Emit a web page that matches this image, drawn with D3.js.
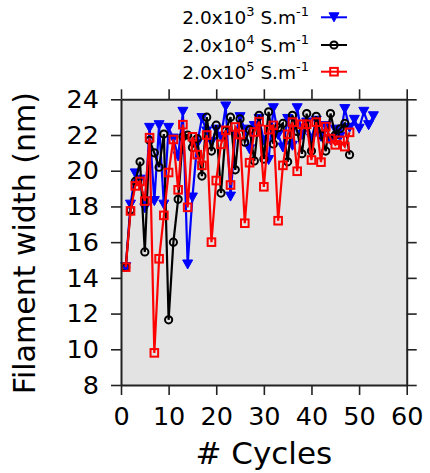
<!DOCTYPE html>
<html>
<head>
<meta charset="utf-8">
<script src="https://cdn.jsdelivr.net/npm/d3@7"></script>
<style>
  body { margin: 0; background: #fff; }
  svg text { font-family: "DejaVu Sans", sans-serif; }
</style>
</head>
<body>
<div id="chart"></div>
<script>
// filament width vs cycle, three conductivities
var xTicks = [0, 10, 20, 30, 40, 50, 60];
var yTicks = [8, 10, 12, 14, 16, 18, 20, 22, 24];

var seriesNames = ["2.0x10|3| S.m|-1", "2.0x10|4| S.m|-1", "2.0x10|5| S.m|-1"];

var blueVals = [14.6, 18.1, 19.85, 19.5, 17.9, 22.4, 18.3, 22.55, 18.1, 22.4,
  21.8, 20.8, 23.3, 14.75, 18.5, 21.5, 22.95, 22.2, 21.6, 22.3,
  21.9, 23.6, 18.55, 22.0, 23.0, 22.3, 21.2, 22.5, 22.9, 21.7,
  20.6, 23.5, 22.0, 21.3, 22.9, 21.4, 23.5, 22.0, 22.7, 21.8,
  22.8, 21.9, 22.5, 21.7, 22.3, 21.9, 23.45, 22.4, 22.85, 22.35,
  23.3, 22.55, 23.05];

var blackVals = [14.6, 17.8, 19.4, 20.5, 15.45, 21.7, 21.0, 20.2, 22.05, 11.65,
  16.0, 18.4, 21.9, 22.0, 21.3, 21.8, 19.7, 23.0, 21.1, 22.55,
  18.75, 22.25, 23.0, 20.05, 22.9, 21.6, 22.3, 20.55, 23.1, 20.65,
  23.3, 21.5, 22.4, 22.65, 20.5, 23.1, 22.2, 20.95, 23.2, 21.1,
  23.05, 22.0, 21.1, 23.2, 22.0, 22.35, 22.65, 20.9];

var redVals = [14.6, 17.75, 19.15, 19.4, 18.3, 21.85, 9.8, 15.07, 17.5, 19.9,
  21.75, 18.93, 22.58, 17.95, 21.9, 20.9, 20.3, 22.0, 16.0, 19.45,
  21.48, 22.26, 19.2, 22.45, 22.03, 17.06, 20.45, 22.17, 22.75, 19.1,
  22.3, 22.54, 17.2, 20.3, 22.04, 22.72, 19.97, 22.6, 22.6, 20.6,
  22.72, 20.48, 22.47, 21.8, 21.45, 21.7, 21.35, 22.15];

var W = 430, H = 473;
var ml = 121, mt = 99.3, pw = 285.7, ph = 285.7;

var svg = d3.select("#chart").append("svg")
  .attr("width", W).attr("height", H);

var x = d3.scaleLinear().domain([0, 60]).range([ml, ml + pw]);
var y = d3.scaleLinear().domain([8, 24]).range([mt + ph, mt]);

svg.append("rect")
  .attr("x", ml).attr("y", mt)
  .attr("width", pw).attr("height", ph)
  .attr("fill", "#e3e3e3");

var series = [
  { vals: blueVals, color: "#0000ff", marker: "tri" },
  { vals: blackVals, color: "#000000", marker: "circ" },
  { vals: redVals, color: "#ff0000", marker: "sq" }
];

var line = d3.line()
  .x(function(d, i) { return x(i + 1); })
  .y(function(d) { return y(d); });

function drawMarker(g, kind, color) {
  if (kind == "tri") {
    g.append("path").attr("d", "M-5,-4.5 L5,-4.5 L0,4.5 Z")
      .attr("fill", color).attr("stroke", color).attr("stroke-width", 1);
  } else if (kind == "circ") {
    g.append("circle").attr("r", 3.6)
      .attr("fill", "none").attr("stroke", color).attr("stroke-width", 2);
  } else {
    g.append("rect").attr("x", -3.8).attr("y", -3.8)
      .attr("width", 7.6).attr("height", 7.6)
      .attr("fill", "none").attr("stroke", color).attr("stroke-width", 2);
  }
}

var plot = svg.append("g");
series.forEach(function(s) {
  plot.append("path")
    .datum(s.vals)
    .attr("d", line)
    .attr("fill", "none")
    .attr("stroke", s.color)
    .attr("stroke-width", 2.2);
  plot.selectAll(null)
    .data(s.vals)
    .enter().append("g")
    .attr("transform", function(d, i) { return "translate(" + x(i + 1) + "," + y(d) + ")"; })
    .each(function() { drawMarker(d3.select(this), s.marker, s.color); });
});

// axes, ticks outward on all four sides
var tickLen = 10;
svg.append("g").attr("transform", "translate(0," + (mt + ph) + ")")
  .call(d3.axisBottom(x).tickValues(xTicks).tickSize(tickLen).tickPadding(12).tickSizeOuter(0));
svg.append("g").attr("transform", "translate(" + ml + ",0)")
  .call(d3.axisLeft(y).tickValues(yTicks).tickSize(tickLen).tickPadding(12).tickSizeOuter(0));
svg.append("g").attr("transform", "translate(0," + mt + ")")
  .call(d3.axisTop(x).tickValues(xTicks).tickSize(tickLen).tickFormat("").tickSizeOuter(0));
svg.append("g").attr("transform", "translate(" + (ml + pw) + ",0)")
  .call(d3.axisRight(y).tickValues(yTicks).tickSize(tickLen).tickFormat("").tickSizeOuter(0));

svg.selectAll(".domain").attr("stroke", "#222").attr("stroke-width", 2);
svg.selectAll(".tick line").attr("stroke", "#222").attr("stroke-width", 1.6);
svg.selectAll(".tick text")
  .attr("font-size", 25.5)
  .attr("font-family", "DejaVu Sans")
  .attr("fill", "#000");

svg.append("text")
  .attr("transform", "translate(35," + (mt + ph / 2 + 1) + ") rotate(-90)")
  .attr("text-anchor", "middle")
  .attr("font-size", 30)
  .text("Filament width (nm)");

svg.append("text")
  .attr("x", ml + pw / 2).attr("y", 464)
  .attr("text-anchor", "middle")
  .attr("font-size", 31)
  .text("# Cycles");

// legend
var legY = [17.3, 45, 71.7];
series.forEach(function(s, i) {
  var parts = seriesNames[i].split("|");
  var t = svg.append("text")
    .attr("x", 309).attr("y", legY[i] + 7)
    .attr("text-anchor", "end")
    .attr("font-size", 18.5);
  t.append("tspan").text(parts[0]);
  t.append("tspan").attr("dy", -8).attr("font-size", 13).text(parts[1]);
  t.append("tspan").attr("dy", 8).text(parts[2]);
  t.append("tspan").attr("dy", -8).attr("font-size", 13).text(parts[3]);

  svg.append("line")
    .attr("x1", 321).attr("x2", 347)
    .attr("y1", legY[i]).attr("y2", legY[i])
    .attr("stroke", s.color).attr("stroke-width", 2);
  var g = svg.append("g").attr("transform", "translate(334," + legY[i] + ")");
  drawMarker(g, s.marker, s.color);
});
</script>
</body>
</html>
